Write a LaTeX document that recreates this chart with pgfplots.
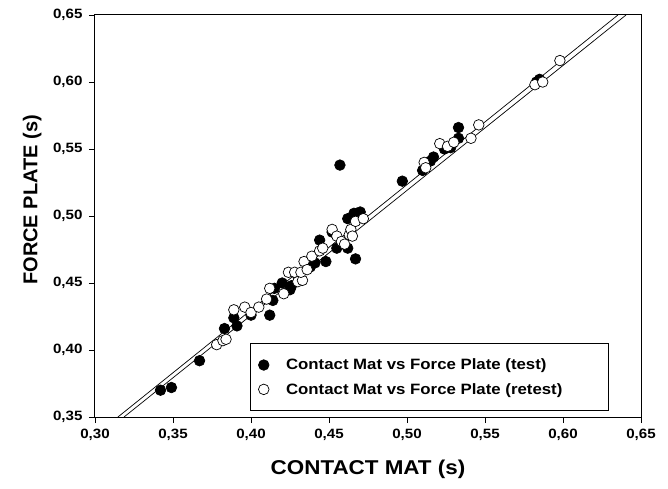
\documentclass[border=0pt]{standalone}
\usepackage{pgfplots}
\pgfplotsset{compat=1.18}
\usepackage{fontspec}
\setmainfont{Liberation Sans}
\newfontfamily\widesans[FakeStretch=1.12]{Liberation Sans}

\pgfplotstableread{
x y
0.342 0.370
0.349 0.372
0.367 0.392
0.383 0.416
0.389 0.424
0.391 0.418
0.400 0.426
0.412 0.426
0.414 0.437
0.415 0.446
0.420 0.450
0.425 0.445
0.426 0.448
0.430 0.455
0.438 0.462
0.441 0.465
0.444 0.482
0.448 0.466
0.452 0.488
0.455 0.476
0.457 0.538
0.462 0.476
0.462 0.498
0.466 0.502
0.467 0.468
0.468 0.502
0.470 0.500
0.470 0.503
0.497 0.526
0.510 0.534
0.515 0.541
0.517 0.544
0.524 0.550
0.528 0.551
0.533 0.558
0.533 0.566
0.583 0.600
0.585 0.602
}\testdata

\pgfplotstableread{
x y
0.378 0.404
0.382 0.407
0.384 0.408
0.389 0.430
0.396 0.432
0.400 0.428
0.405 0.432
0.410 0.438
0.412 0.446
0.421 0.442
0.424 0.458
0.428 0.458
0.430 0.451
0.433 0.452
0.432 0.458
0.434 0.466
0.436 0.460
0.439 0.470
0.444 0.474
0.446 0.476
0.452 0.490
0.455 0.485
0.458 0.481
0.460 0.479
0.463 0.486
0.464 0.490
0.465 0.485
0.467 0.496
0.472 0.498
0.511 0.540
0.512 0.536
0.521 0.554
0.526 0.552
0.530 0.555
0.541 0.558
0.546 0.568
0.582 0.598
0.587 0.600
0.598 0.616
}\retestdata

\begin{document}
\begin{tikzpicture}
\useasboundingbox (-95pt,-71pt) rectangle (573pt,417pt);
\begin{axis}[
  scale only axis,
  width=546pt, height=402pt,
  xmin=0.30, xmax=0.65, ymin=0.35, ymax=0.65,
  xtick={0.30,0.35,0.40,0.45,0.50,0.55,0.60,0.65},
  ytick={0.35,0.40,0.45,0.50,0.55,0.60,0.65},
  tick align=outside, tick pos=left,
  major tick length=6pt,
  every tick/.style={black, line width=0.8pt},
  axis line style={line width=1pt},
  tick label style={font=\fontsize{13.5}{15}\selectfont\widesans\bfseries},
  xticklabel style={yshift=-3pt},
  yticklabel style={xshift=-3pt},
  /pgf/number format/use comma,
  /pgf/number format/fixed,
  /pgf/number format/fixed zerofill,
  /pgf/number format/precision=2,
  /pgf/number format/assume math mode=true,
  xlabel={CONTACT MAT (s)},
  ylabel={FORCE PLATE (s)},
  xlabel style={font=\fontsize{20}{22}\selectfont\widesans\bfseries,
    at={(axis description cs:0.5,0)}, anchor=center, yshift=-52pt},
  ylabel style={font=\fontsize{20}{22}\selectfont\bfseries,
    at={(axis description cs:-0.115,0.54)}, anchor=center},
  legend style={at={(0.284,0.015)}, anchor=south west, draw=black, line width=0.8pt,
    font=\fontsize{15}{17}\selectfont\widesans\bfseries, row sep=8pt,
    inner ysep=13pt, inner xsep=8pt},
  legend cell align=left,
]
\addplot[black, line width=0.7pt, forget plot] coordinates {(0.3147,0.35) (0.6352,0.65)};
\addplot[black, line width=0.7pt, forget plot] coordinates {(0.3186,0.35) (0.6404,0.65)};
\addplot[only marks, mark=*, mark size=5.3pt, black, mark options={line width=0.7pt}] table[x=x,y=y] {\testdata};
\addlegendentry{\hspace*{15pt}Contact Mat vs Force Plate (test)}
\addplot[only marks, mark=*, mark size=5.3pt, draw=black, mark options={fill=white, line width=0.7pt}] table[x=x,y=y] {\retestdata};
\addlegendentry{\hspace*{15pt}Contact Mat vs Force Plate (retest)\hspace*{36pt}}
\end{axis}
\end{tikzpicture}
\end{document}
